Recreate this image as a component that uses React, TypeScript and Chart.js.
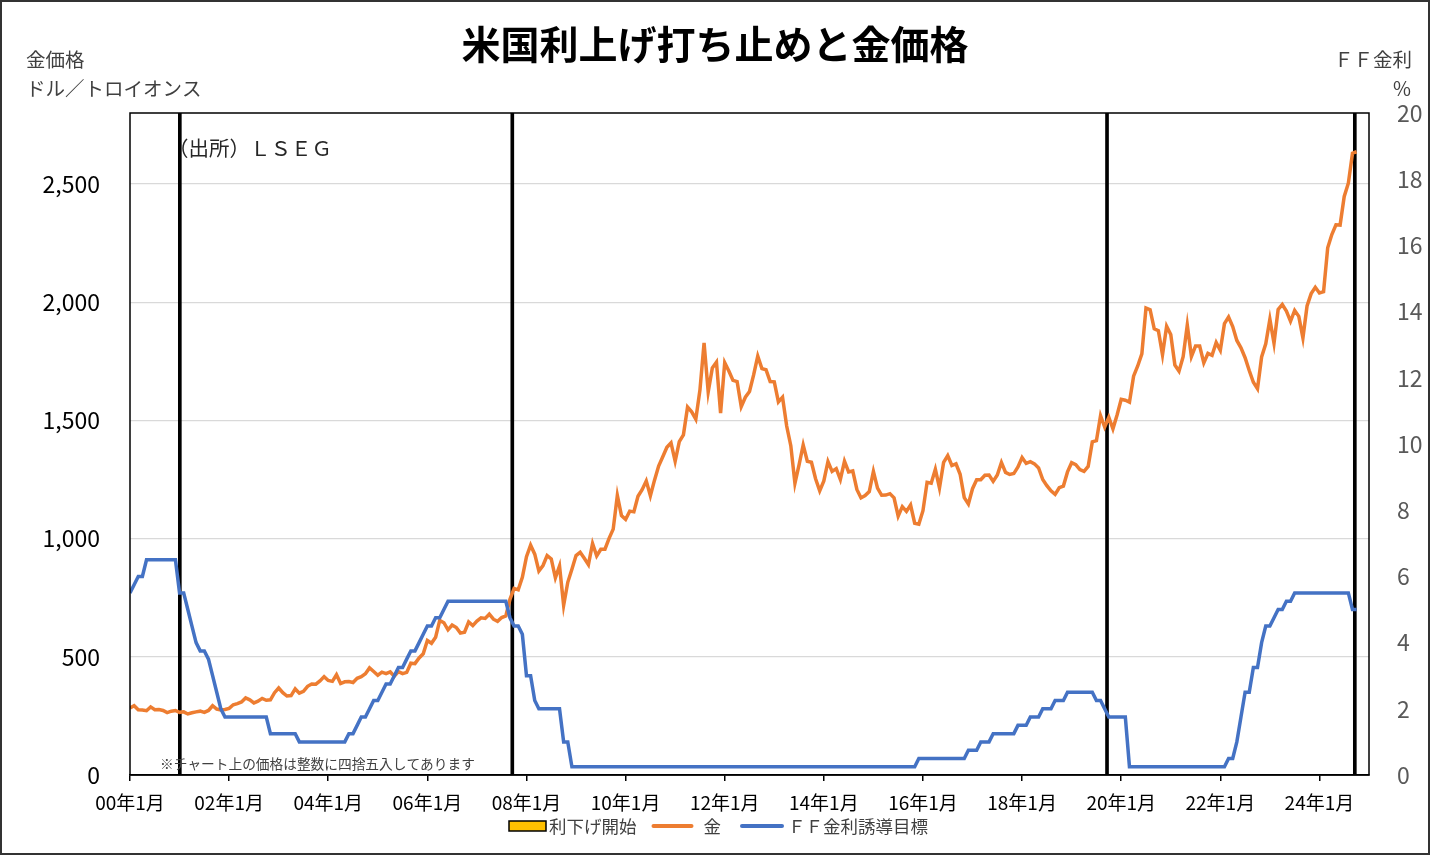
import React, { useEffect, useRef } from 'react';
import { Chart, registerables } from 'chart.js';

Chart.register(...registerables);

const START_YEAR = 2000;
const AXIS_MONTHS = 300; // 2000年1月〜2025年1月

const titleText = '米国利上げ打ち止めと金価格';
const leftAxisTitle = ['金価格', 'ドル／トロイオンス'];
const rightAxisTitle = ['ＦＦ金利', '%'];
const sourceText = '（出所）ＬＳＥＧ';
const noteText = '※チャート上の価格は整数に四捨五入してあります';
const legendLabels = ['利下げ開始', '金', 'ＦＦ金利誘導目標'];

// 金価格（月末、ドル／トロイオンス）2000年1月〜2024年10月
const gold2000 = [283, 293, 276, 275, 272, 288, 276, 277, 273, 264, 270, 273];
const gold2001 = [265, 267, 258, 263, 267, 270, 265, 273, 293, 279, 275, 277];
const gold2002 = [282, 297, 302, 309, 326, 318, 305, 312, 324, 316, 318, 348];
const gold2003 = [368, 348, 334, 336, 364, 346, 354, 375, 385, 384, 398, 416];
const gold2004 = [400, 396, 424, 387, 394, 395, 391, 409, 416, 428, 453, 438];
const gold2005 = [422, 435, 429, 436, 418, 437, 429, 434, 473, 471, 495, 513];
const gold2006 = [569, 557, 583, 654, 644, 614, 634, 624, 600, 604, 647, 632];
const gold2007 = [651, 665, 662, 680, 659, 650, 666, 673, 743, 789, 783, 836];
const gold2008 = [923, 972, 934, 863, 886, 928, 914, 834, 884, 718, 815, 870];
const gold2009 = [928, 942, 917, 890, 979, 927, 955, 955, 1001, 1040, 1183, 1097];
const gold2010 = [1081, 1116, 1113, 1179, 1207, 1244, 1181, 1247, 1307, 1346, 1386, 1405];
const gold2011 = [1327, 1410, 1439, 1556, 1536, 1505, 1628, 1828, 1620, 1722, 1746, 1531];
const gold2012 = [1744, 1709, 1669, 1664, 1558, 1598, 1622, 1692, 1772, 1719, 1714, 1664];
const gold2013 = [1663, 1578, 1598, 1476, 1393, 1234, 1312, 1396, 1327, 1323, 1253, 1202];
const gold2014 = [1244, 1326, 1284, 1296, 1250, 1327, 1282, 1286, 1208, 1172, 1182, 1199];
const gold2015 = [1284, 1213, 1183, 1184, 1190, 1172, 1095, 1135, 1115, 1142, 1065, 1061];
const gold2016 = [1118, 1238, 1234, 1293, 1214, 1322, 1351, 1309, 1316, 1272, 1173, 1146];
const gold2017 = [1211, 1249, 1249, 1268, 1269, 1242, 1269, 1322, 1280, 1271, 1275, 1303];
const gold2018 = [1343, 1318, 1325, 1316, 1299, 1250, 1224, 1202, 1187, 1215, 1222, 1282];
const gold2019 = [1321, 1313, 1292, 1284, 1305, 1409, 1414, 1520, 1472, 1513, 1464, 1523];
const gold2020 = [1589, 1585, 1577, 1687, 1730, 1781, 1975, 1968, 1887, 1879, 1777, 1898];
const gold2021 = [1863, 1734, 1708, 1769, 1903, 1770, 1814, 1814, 1743, 1783, 1775, 1829];
const gold2022 = [1796, 1909, 1937, 1897, 1838, 1807, 1765, 1711, 1661, 1634, 1768, 1824];
const gold2023 = [1928, 1826, 1969, 1990, 1962, 1919, 1965, 1940, 1849, 1984, 2036, 2063];
const gold2024 = [2039, 2044, 2230, 2286, 2327, 2326, 2447, 2503, 2630, 2636];

// ＦＦ金利誘導目標（月末、%）2000年1月〜2024年10月
const ff2000 = [5.5, 5.75, 6, 6, 6.5, 6.5, 6.5, 6.5, 6.5, 6.5, 6.5, 6.5];
const ff2001 = [5.5, 5.5, 5, 4.5, 4, 3.75, 3.75, 3.5, 3, 2.5, 2, 1.75];
const ff2002 = [1.75, 1.75, 1.75, 1.75, 1.75, 1.75, 1.75, 1.75, 1.75, 1.75, 1.25, 1.25];
const ff2003 = [1.25, 1.25, 1.25, 1.25, 1.25, 1, 1, 1, 1, 1, 1, 1];
const ff2004 = [1, 1, 1, 1, 1, 1.25, 1.25, 1.5, 1.75, 1.75, 2, 2.25];
const ff2005 = [2.25, 2.5, 2.75, 2.75, 3, 3.25, 3.25, 3.5, 3.75, 3.75, 4, 4.25];
const ff2006 = [4.5, 4.5, 4.75, 4.75, 5, 5.25, 5.25, 5.25, 5.25, 5.25, 5.25, 5.25];
const ff2007 = [5.25, 5.25, 5.25, 5.25, 5.25, 5.25, 5.25, 5.25, 4.75, 4.5, 4.5, 4.25];
const ff2008 = [3, 3, 2.25, 2, 2, 2, 2, 2, 2, 1, 1, 0.25];
const ff2009 = [0.25, 0.25, 0.25, 0.25, 0.25, 0.25, 0.25, 0.25, 0.25, 0.25, 0.25, 0.25];
const ff2010 = [0.25, 0.25, 0.25, 0.25, 0.25, 0.25, 0.25, 0.25, 0.25, 0.25, 0.25, 0.25];
const ff2011 = [0.25, 0.25, 0.25, 0.25, 0.25, 0.25, 0.25, 0.25, 0.25, 0.25, 0.25, 0.25];
const ff2012 = [0.25, 0.25, 0.25, 0.25, 0.25, 0.25, 0.25, 0.25, 0.25, 0.25, 0.25, 0.25];
const ff2013 = [0.25, 0.25, 0.25, 0.25, 0.25, 0.25, 0.25, 0.25, 0.25, 0.25, 0.25, 0.25];
const ff2014 = [0.25, 0.25, 0.25, 0.25, 0.25, 0.25, 0.25, 0.25, 0.25, 0.25, 0.25, 0.25];
const ff2015 = [0.25, 0.25, 0.25, 0.25, 0.25, 0.25, 0.25, 0.25, 0.25, 0.25, 0.25, 0.5];
const ff2016 = [0.5, 0.5, 0.5, 0.5, 0.5, 0.5, 0.5, 0.5, 0.5, 0.5, 0.5, 0.75];
const ff2017 = [0.75, 0.75, 1, 1, 1, 1.25, 1.25, 1.25, 1.25, 1.25, 1.25, 1.5];
const ff2018 = [1.5, 1.5, 1.75, 1.75, 1.75, 2, 2, 2, 2.25, 2.25, 2.25, 2.5];
const ff2019 = [2.5, 2.5, 2.5, 2.5, 2.5, 2.5, 2.25, 2.25, 2, 1.75, 1.75, 1.75];
const ff2020 = [1.75, 1.75, 0.25, 0.25, 0.25, 0.25, 0.25, 0.25, 0.25, 0.25, 0.25, 0.25];
const ff2021 = [0.25, 0.25, 0.25, 0.25, 0.25, 0.25, 0.25, 0.25, 0.25, 0.25, 0.25, 0.25];
const ff2022 = [0.25, 0.25, 0.5, 0.5, 1, 1.75, 2.5, 2.5, 3.25, 3.25, 4, 4.5];
const ff2023 = [4.5, 4.75, 5, 5, 5.25, 5.25, 5.5, 5.5, 5.5, 5.5, 5.5, 5.5];
const ff2024 = [5.5, 5.5, 5.5, 5.5, 5.5, 5.5, 5.5, 5.5, 5, 5];

// 利下げ開始日
const cutDates = ['2001-01-03', '2007-09-18', '2019-09-18', '2024-09-18'];

// 目盛り
const leftTicks = [0, 500, 1000, 1500, 2000, 2500];
const leftMax = 2800;
const rightTicks = [0, 2, 4, 6, 8, 10, 12, 14, 16, 18, 20];
const rightMax = 20;
const xTickYears = [0, 2, 4, 6, 8, 10, 12, 14, 16, 18, 20, 22, 24];

const goldAll = [
  gold2000, gold2001, gold2002, gold2003, gold2004, gold2005, gold2006, gold2007, gold2008,
  gold2009, gold2010, gold2011, gold2012, gold2013, gold2014, gold2015, gold2016, gold2017,
  gold2018, gold2019, gold2020, gold2021, gold2022, gold2023, gold2024,
].flat();
const ffAll = [
  ff2000, ff2001, ff2002, ff2003, ff2004, ff2005, ff2006, ff2007, ff2008, ff2009, ff2010,
  ff2011, ff2012, ff2013, ff2014, ff2015, ff2016, ff2017, ff2018, ff2019, ff2020, ff2021,
  ff2022, ff2023, ff2024,
].flat();

function dateToMonthIndex(s: string): number {
  const [y, m, d] = s.split('-').map(Number);
  const days = new Date(y, m, 0).getDate();
  return (y - START_YEAR) * 12 + (m - 1) + (d - 1) / days;
}

const FONT = '"Noto Sans CJK JP", "Noto Sans", sans-serif';
const GOLD = '#ED7D31';
const BLUE = '#4472C4';

const decorPlugin = {
  id: 'decor',
  afterDraw(chart: any) {
    const ctx = chart.ctx as CanvasRenderingContext2D;
    const a = chart.chartArea;
    ctx.save();
    // plot border
    ctx.strokeStyle = '#000';
    ctx.lineWidth = 1.5;
    ctx.strokeRect(a.left, a.top, a.right - a.left, a.bottom - a.top);
    // outer border
    ctx.strokeStyle = '#333';
    ctx.lineWidth = 2;
    ctx.strokeRect(1, 1, chart.width - 2, chart.height - 2);

    // title
    ctx.fillStyle = '#000';
    ctx.font = `bold 39px ${FONT}`;
    ctx.textAlign = 'center';
    ctx.textBaseline = 'middle';
    ctx.fillText(titleText, 715, 44);

    // axis titles
    ctx.font = `19.5px ${FONT}`;
    ctx.fillStyle = '#404040';
    ctx.textAlign = 'left';
    ctx.fillText(leftAxisTitle[0], 26, 60);
    ctx.fillText(leftAxisTitle[1], 26, 89);
    ctx.textAlign = 'right';
    ctx.fillText(rightAxisTitle[0], 1412, 60);
    ctx.fillText(rightAxisTitle[1], 1411, 89);

    // source
    ctx.textAlign = 'left';
    ctx.font = `20.5px ${FONT}`;
    ctx.fillStyle = '#262626';
    ctx.fillText(sourceText, a.left + 38, 148);

    // note
    ctx.font = `13.7px ${FONT}`;
    ctx.fillStyle = '#404040';
    ctx.fillText(noteText, a.left + 30, 764);

    // legend
    const ly = 826;
    let lx = 509;
    ctx.font = `17.5px ${FONT}`;
    ctx.fillStyle = '#FFC000';
    ctx.fillRect(lx, ly - 5, 37, 10);
    ctx.strokeStyle = '#000';
    ctx.lineWidth = 1.5;
    ctx.strokeRect(lx, ly - 5, 37, 10);
    lx += 40;
    ctx.fillStyle = '#404040';
    ctx.fillText(legendLabels[0], lx, ly);
    lx += ctx.measureText(legendLabels[0]).width + 17;
    ctx.lineWidth = 4;
    ctx.lineCap = 'round';
    ctx.strokeStyle = GOLD;
    ctx.beginPath();
    ctx.moveTo(lx, ly);
    ctx.lineTo(lx + 38, ly);
    ctx.stroke();
    lx += 50;
    ctx.fillText(legendLabels[1], lx, ly);
    lx += ctx.measureText(legendLabels[1]).width + 21;
    ctx.strokeStyle = BLUE;
    ctx.beginPath();
    ctx.moveTo(lx, ly);
    ctx.lineTo(lx + 40, ly);
    ctx.stroke();
    lx += 46;
    ctx.fillText(legendLabels[2], lx, ly);
    ctx.restore();
  },
};

export default function App() {
  const ref = useRef<HTMLCanvasElement | null>(null);
  useEffect(() => {
    document.body.style.margin = '0';
    const canvas = ref.current;
    if (!canvas) return;
    const goldData = goldAll.map((v, i) => ({ x: i, y: v }));
    const ffData = ffAll.map((v, i) => ({ x: i, y: v }));
    const cutData = cutDates.map((d) => ({ x: dateToMonthIndex(d), y: rightMax }));
    const chart = new Chart(canvas, {
      type: 'line',
      data: {
        datasets: [
          {
            type: 'bar',
            label: legendLabels[0],
            data: cutData as any,
            yAxisID: 'y2',
            backgroundColor: '#000',
            borderWidth: 0,
            barThickness: 3,
            order: 3,
          } as any,
          {
            type: 'line',
            label: legendLabels[1],
            data: goldData as any,
            yAxisID: 'y',
            borderColor: GOLD,
            borderWidth: 3.5,
            pointRadius: 0,
            tension: 0,
            order: 2,
          },
          {
            type: 'line',
            label: legendLabels[2],
            data: ffData as any,
            yAxisID: 'y2',
            borderColor: BLUE,
            borderWidth: 3.5,
            pointRadius: 0,
            tension: 0,
            order: 1,
          },
        ],
      },
      options: {
        animation: false,
        responsive: false,
        devicePixelRatio: 1,
        layout: { padding: { top: 113, left: 0, right: 0, bottom: 0 } },
        plugins: { legend: { display: false }, tooltip: { enabled: false }, title: { display: false } },
        scales: {
          x: {
            type: 'linear',
            min: 0,
            max: AXIS_MONTHS,
            offset: false,
            grid: { drawOnChartArea: false, drawTicks: true, tickLength: 6, color: '#000', lineWidth: 1.5, offset: false },
            border: { display: true, color: '#000', width: 1.5 },
            afterBuildTicks: (s: any) => {
              s.ticks = xTickYears.map((y) => ({ value: y * 12 }));
            },
            ticks: {
              padding: 10,
              color: '#000',
              font: { family: FONT, size: 19 },
              maxRotation: 0,
              autoSkip: false,
              callback: (v: any) => {
                const n = Number(v);
                const yy = (START_YEAR + Math.floor(n / 12)) % 100;
                return `${String(yy).padStart(2, '0')}年1月`;
              },
            },
            afterFit: (s: any) => { s.height = 80; },
          },
          y: {
            position: 'left',
            min: 0,
            max: leftMax,
            grid: { color: '#d9d9d9', lineWidth: 1.2, drawTicks: false },
            border: { display: false },
            afterBuildTicks: (s: any) => {
              s.ticks = leftTicks.map((v) => ({ value: v }));
            },
            ticks: {
              padding: 30,
              color: '#000',
              font: { family: FONT, size: 23 },
              callback: (v: any) => Number(v).toLocaleString('en-US'),
            },
            afterFit: (s: any) => { s.width = 130; },
          },
          y2: {
            position: 'right',
            min: 0,
            max: rightMax,
            grid: { display: false, drawTicks: false },
            border: { display: false },
            afterBuildTicks: (s: any) => {
              s.ticks = rightTicks.map((v) => ({ value: v }));
            },
            ticks: {
              padding: 28,
              color: '#595959',
              font: { family: FONT, size: 23 },
            },
            afterFit: (s: any) => { s.width = 61; },
          },
        },
      } as any,
      plugins: [decorPlugin],
    });
    return () => chart.destroy();
  }, []);
  return (
    <div style={{ width: 1430, height: 855, background: '#fff' }}>
      <canvas ref={ref} width={1430} height={855} style={{ display: 'block' }} />
    </div>
  );
}
